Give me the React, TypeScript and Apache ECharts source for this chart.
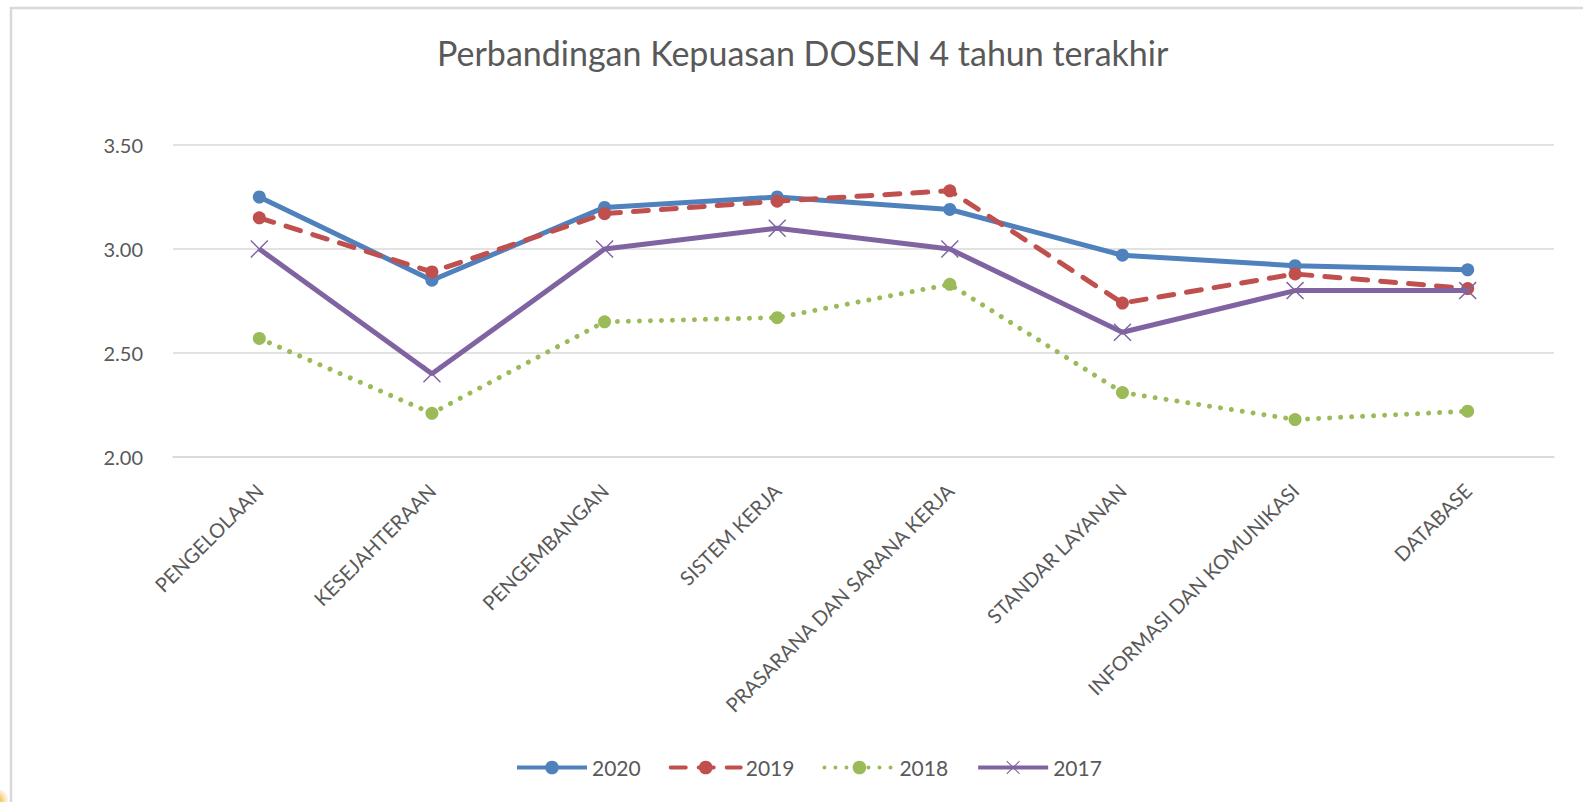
import React, { useEffect, useRef } from "react";
import * as echarts from "echarts";

const categories = [
  "PENGELOLAAN",
  "KESEJAHTERAAN",
  "PENGEMBANGAN",
  "SISTEM KERJA",
  "PRASARANA DAN SARANA KERJA",
  "STANDAR LAYANAN",
  "INFORMASI DAN KOMUNIKASI",
  "DATABASE",
];
const values2020 = [3.25, 2.85, 3.2, 3.25, 3.19, 2.97, 2.92, 2.9];
const values2019 = [3.15, 2.89, 3.17, 3.23, 3.28, 2.74, 2.88, 2.81];
const values2018 = [2.57, 2.21, 2.65, 2.67, 2.83, 2.31, 2.18, 2.22];
const values2017 = [3.0, 2.4, 3.0, 3.1, 3.0, 2.6, 2.8, 2.8];
const seriesNames = ["2020", "2019", "2018", "2017"];
const yTicks = { min: 2, max: 3.5, interval: 0.5 };

const FONT = "Lato, 'Open Sans', sans-serif";
const X_SYMBOL =
  "path://M0,0.8 L0.8,0 L7,6.2 L13.2,0 L14,0.8 L7.8,7 L14,13.2 L13.2,14 L7,7.8 L0.8,14 L0,13.2 L6.2,7 Z";

export default function App() {
  const ref = useRef<HTMLDivElement>(null);
  useEffect(() => {
    document.body.style.margin = "0";
    const chart = echarts.init(ref.current!, undefined, { renderer: "svg" });
    chart.setOption({
      animation: false,
      backgroundColor: "#ffffff",
      title: {
        text: "Perbandingan Kepuasan DOSEN 4 tahun terakhir",
        left: 432,
        top: 30,
        textStyle: { fontFamily: FONT, fontSize: 34, fontWeight: "normal", color: "#595959" },
      },
      legend: {
        bottom: 19,
        left: 510,
        itemWidth: 70,
        itemHeight: 17,
        itemGap: 28,
        lineStyle: { width: 4 },
        textStyle: { fontFamily: FONT, fontSize: 21, color: "#595959" },
        data: seriesNames,
      },
      graphic: [
        {
          type: "rect",
          shape: { x: 11, y: 8, width: 1600, height: 820 },
          style: { fill: "none", stroke: "#d9d9d9", lineWidth: 2.5 },
          silent: true,
        },
        {
          type: "circle",
          shape: { cx: -3, cy: 800, r: 11 },
          style: {
            fill: new echarts.graphic.RadialGradient(0.5, 0.5, 0.5, [
              { offset: 0, color: "#e8a317" },
              { offset: 1, color: "rgba(250,220,150,0.3)" },
            ]),
          },
          silent: true,
        },
      ],
      grid: { left: 173, right: 29, top: 145, bottom: 345 },
      xAxis: {
        type: "category",
        data: categories,
        boundaryGap: true,
        axisLine: { show: true, lineStyle: { color: "#d9d9d9", width: 1.5 } },
        axisTick: { show: false },
        axisLabel: {
          rotate: 45,
          margin: 30,
          interval: 0,
          fontFamily: FONT,
          fontSize: 20,
          color: "#595959",
        },
      },
      yAxis: {
        type: "value",
        min: yTicks.min,
        max: yTicks.max,
        interval: yTicks.interval,
        axisLine: { show: false },
        axisTick: { show: false },
        splitLine: { lineStyle: { color: "#d9d9d9", width: 1.5 } },
        axisLabel: {
          margin: 30,
          fontFamily: FONT,
          fontSize: 20,
          color: "#595959",
          formatter: (v: number) => v.toFixed(2),
        },
      },
      series: [
        {
          name: "2020",
          type: "line",
          data: values2020,
          symbol: "circle",
          symbolSize: 13,
          color: "#4f81bd",
          lineStyle: { width: 5, color: "#4f81bd" },
          itemStyle: { color: "#4f81bd" },
          z: 4,
        },
        {
          name: "2019",
          type: "line",
          data: values2019,
          symbol: "circle",
          symbolSize: 13,
          color: "#c0504d",
          lineStyle: { width: 5, color: "#c0504d", type: [15, 13], cap: "round" },
          itemStyle: { color: "#c0504d" },
          z: 5,
        },
        {
          name: "2018",
          type: "line",
          data: values2018,
          symbol: "circle",
          symbolSize: 13,
          color: "#9bbb59",
          lineStyle: { width: 5, color: "#9bbb59", type: [0.01, 11], cap: "round" },
          itemStyle: { color: "#9bbb59" },
          z: 3,
        },
        {
          name: "2017",
          type: "line",
          data: values2017,
          symbol: X_SYMBOL,
          symbolSize: 18,
          color: "#8064a2",
          lineStyle: { width: 5, color: "#8064a2" },
          itemStyle: { color: "#8064a2" },
          z: 6,
        },
      ],
    });
    return () => chart.dispose();
  }, []);
  return <div ref={ref} style={{ width: 1583, height: 802 }} />;
}
